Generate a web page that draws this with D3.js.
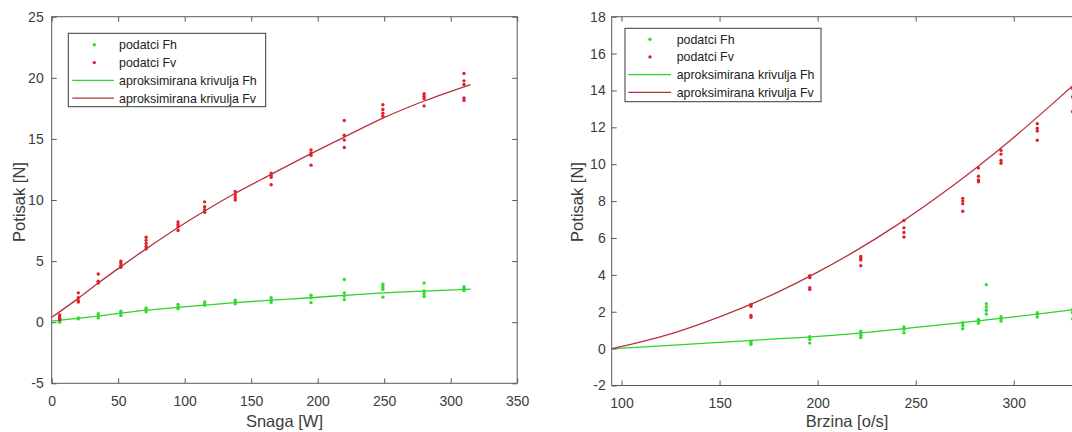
<!DOCTYPE html>
<html>
<head>
<meta charset="utf-8">
<script src="https://cdn.jsdelivr.net/npm/d3@7/dist/d3.min.js"></script>
<style>
  html, body { margin: 0; padding: 0; background: #fff; }
  svg { display: block; }
  text { font-family: "Liberation Sans", Arial, Helvetica, sans-serif; }
</style>
</head>
<body>
<svg id="chart" width="1072" height="432"></svg>
<script>
// ---------- LEFT CHART DATA (Snaga [W] -> Potisak [N]) ----------
const leftX = [6, 20, 35, 52, 71, 95, 115, 138, 165, 195, 220, 249, 280, 310];
const leftFh = [
  [0.35, 0.2, 0.05, 0.0],
  [0.35, 0.27],
  [0.7, 0.5, 0.35],
  [0.9, 0.75, 0.55],
  [1.17, 1.05, 0.85],
  [1.45, 1.25, 1.1],
  [1.65, 1.5, 1.38],
  [1.8, 1.65, 1.5],
  [2.0, 1.8, 1.62],
  [2.2, 2.0, 1.6],
  [3.5, 2.4, 2.15, 1.85],
  [3.1, 2.9, 2.7, 2.05],
  [3.2, 2.55, 2.35, 2.1],
  [2.9, 2.75, 2.6]
];
const leftFv = [
  [0.6, 0.45, 0.3, 0.2],
  [2.4, 2.0, 1.75, 1.65],
  [3.95, 3.35, 3.2],
  [5.0, 4.85, 4.65, 4.5],
  [6.95, 6.7, 6.45, 6.2, 6.0],
  [8.2, 8.0, 7.8, 7.5],
  [9.85, 9.45, 9.2, 9.0],
  [10.7, 10.45, 10.2, 10.0],
  [12.2, 12.0, 11.85, 11.25],
  [14.1, 13.85, 13.65, 12.85],
  [16.5, 15.3, 14.9, 14.3],
  [17.8, 17.4, 17.1, 16.85],
  [18.7, 18.5, 18.3, 17.7],
  [20.35, 19.75, 19.45, 18.35, 18.15]
];
const leftFitFvX = [0, 20, 35, 52, 71, 95, 115, 138, 165, 195, 220, 249, 280, 315];
const leftFitFv  = [0.4, 1.95, 3.2, 4.55, 6.0, 7.75, 9.1, 10.55, 12.1, 13.8, 15.15, 16.7, 18.1, 19.45];
const leftFitFhX = [0, 35, 71, 95, 138, 165, 195, 220, 249, 280, 315];
const leftFitFh  = [0.1, 0.5, 0.98, 1.22, 1.6, 1.8, 2.0, 2.2, 2.4, 2.55, 2.7];
const leftXTicks = [0, 50, 100, 150, 200, 250, 300, 350];
const leftYTicks = [-5, 0, 5, 10, 15, 20, 25];

// ---------- RIGHT CHART DATA (Brzina [o/s] -> Potisak [N]) ----------
const rightFvX = [166, 196, 222, 244, 274, 282, 293.5, 312, 330];
const rightFv = [
  [2.4, 2.3, 1.8, 1.7],
  [3.95, 3.85, 3.3, 3.2],
  [5.0, 4.9, 4.8, 4.5],
  [6.95, 6.55, 6.3, 6.05],
  [8.15, 8.0, 7.85, 7.45],
  [9.8, 9.35, 9.15, 9.05],
  [10.75, 10.55, 10.2, 10.05],
  [12.2, 11.95, 11.8, 11.3],
  [14.1, 13.65, 12.85]
];
const rightFhX = [166, 196, 222, 244, 274, 282, 286, 293.5, 312, 330];
const rightFh = [
  [0.4, 0.3, 0.22],
  [0.65, 0.5, 0.3],
  [0.95, 0.85, 0.72, 0.6],
  [1.17, 1.05, 0.86],
  [1.4, 1.26, 1.08],
  [1.58, 1.48, 1.37],
  [3.47, 2.44, 2.26, 2.08, 1.88],
  [1.73, 1.62, 1.5],
  [1.95, 1.86, 1.71],
  [2.1, 1.95, 1.61]
];
const rightFitFvX = [95, 110, 125, 140, 160, 180, 200, 220, 240, 260, 280, 300, 320, 330];
const rightFitFv  = [0, 0.37, 0.8, 1.33, 2.14, 3.08, 4.15, 5.34, 6.67, 8.14, 9.73, 11.45, 13.3, 14.25];
const rightFitFhX = [95, 125, 150, 175, 200, 225, 250, 275, 300, 330];
const rightFitFh  = [0, 0.18, 0.34, 0.5, 0.66, 0.88, 1.15, 1.42, 1.72, 2.1];
const rightXTicks = [100, 150, 200, 250, 300];
const rightYTicks = [-2, 0, 2, 4, 6, 8, 10, 12, 14, 16, 18];

const legendLabels = ["podatci Fh", "podatci Fv", "aproksimirana krivulja Fh", "aproksimirana krivulja Fv"];

// ---------- STYLE ----------
const C = {
  axis: "#5a5a5a", tickText: "#3c3c3c",
  dotG: "#2fdc2f", dotR: "#e0202a",
  lineG: "#2ad42a", lineR: "#b8323c"
};

const svg = d3.select("#chart");
svg.append("rect").attr("width", 1072).attr("height", 432).attr("fill", "#fff");

function flat(xs, cols) {
  const out = [];
  xs.forEach((x, i) => cols[i].forEach(v => out.push([x, v])));
  return out;
}
const fmt = d => String(d); // plain hyphen minus like the original

function drawChart(cfg) {
  const x = d3.scaleLinear().domain(cfg.xDomain).range([cfg.left, cfg.right]);
  const y = d3.scaleLinear().domain(cfg.yDomain).range([cfg.bottom, cfg.top]);
  const g = svg.append("g");
  const fs = 14;

  const ax = g.append("g").attr("transform", `translate(0,${cfg.bottom})`)
    .call(d3.axisBottom(x).tickValues(cfg.xTicks).tickFormat(fmt).tickSizeInner(-5).tickSizeOuter(0).tickPadding(13));
  const ay = g.append("g").attr("transform", `translate(${cfg.left},0)`)
    .call(d3.axisLeft(y).tickValues(cfg.yTicks).tickFormat(fmt).tickSizeInner(-5).tickSizeOuter(0).tickPadding(cfg.yPad));
  const at = g.append("g").attr("transform", `translate(0,${cfg.top})`)
    .call(d3.axisTop(x).tickValues(cfg.xTicks).tickSizeInner(-5).tickSizeOuter(0).tickFormat(""));
  const ar = g.append("g").attr("transform", `translate(${cfg.right},0)`)
    .call(d3.axisRight(y).tickValues(cfg.yTicks).tickSizeInner(-5).tickSizeOuter(0).tickFormat(""));
  [ax, ay, at, ar].forEach(a => {
    a.select(".domain").remove();
    a.selectAll(".tick line").attr("stroke", C.axis);
    a.selectAll("text").attr("fill", C.tickText).style("font-size", fs + "px")
      .style("font-family", '"Liberation Sans", Arial, sans-serif');
  });

  g.append("rect").attr("x", cfg.left).attr("y", cfg.top)
    .attr("width", cfg.right - cfg.left).attr("height", cfg.bottom - cfg.top)
    .attr("fill", "none").attr("stroke", C.axis).attr("stroke-width", 1);

  const line = d3.line().x(d => x(d[0])).y(d => y(d[1])).curve(d3.curveMonotoneX);
  g.append("path").datum(cfg.fitFhX.map((v, i) => [v, cfg.fitFh[i]]))
    .attr("d", line).attr("fill", "none").attr("stroke", C.lineG).attr("stroke-width", 1.3);
  g.append("path").datum(cfg.fitFvX.map((v, i) => [v, cfg.fitFv[i]]))
    .attr("d", line).attr("fill", "none").attr("stroke", C.lineR).attr("stroke-width", 1.3);

  g.append("g").selectAll("circle").data(flat(cfg.fhX, cfg.fh)).join("circle")
    .attr("cx", d => x(d[0])).attr("cy", d => y(d[1])).attr("r", 1.7).attr("fill", C.dotG);
  g.append("g").selectAll("circle").data(flat(cfg.fvX, cfg.fv)).join("circle")
    .attr("cx", d => x(d[0])).attr("cy", d => y(d[1])).attr("r", 1.7).attr("fill", C.dotR);

  g.append("text").attr("x", (cfg.left + cfg.right) / 2).attr("y", 426.5)
    .attr("text-anchor", "middle").attr("fill", C.tickText).style("font-size", "16.5px")
    .text(cfg.xTitle);
  g.append("text").attr("transform", `translate(${cfg.yTitleX},202) rotate(-90)`)
    .attr("text-anchor", "middle").attr("fill", C.tickText).style("font-size", "16.5px")
    .text("Potisak [N]");

  const L = cfg.legend;
  const lg = g.append("g");
  lg.append("rect").attr("x", L.x).attr("y", L.y).attr("width", L.w).attr("height", L.h)
    .attr("fill", "#fff").attr("stroke", "#3a3a3a").attr("stroke-width", 1);
  legendLabels.forEach((t, i) => {
    const yy = L.rows[i];
    if (i < 2) {
      lg.append("circle").attr("cx", L.mx).attr("cy", yy).attr("r", 1.7)
        .attr("fill", i === 0 ? C.dotG : C.dotR);
    } else {
      lg.append("line").attr("x1", L.l1).attr("x2", L.l2).attr("y1", yy).attr("y2", yy)
        .attr("stroke", i === 2 ? C.lineG : C.lineR).attr("stroke-width", 1.3);
    }
    lg.append("text").attr("x", L.tx).attr("y", yy).attr("dy", "0.36em")
      .attr("fill", "#222").style("font-size", "12.4px").text(t);
  });
}

drawChart({
  xDomain: [0, 350], yDomain: [-5, 25],
  left: 51.7, right: 517.2, top: 16.7, bottom: 383.3,
  xTicks: leftXTicks, yTicks: leftYTicks, yPad: 8,
  fhX: leftX, fh: leftFh, fvX: leftX, fv: leftFv,
  fitFhX: leftFitFhX, fitFh: leftFitFh, fitFvX: leftFitFvX, fitFv: leftFitFv,
  xTitle: "Snaga [W]", yTitleX: 25,
  legend: { x: 68.3, y: 33.3, w: 197.4, h: 73.4, rows: [44.8, 62.6, 80.4, 98.2],
            mx: 94.3, l1: 72.3, l2: 114, tx: 119 }
});

drawChart({
  xDomain: [95, 335], yDomain: [-2, 18],
  left: 611.7, right: 1082.4, top: 16.7, bottom: 385.5,
  xTicks: rightXTicks, yTicks: rightYTicks, yPad: 6,
  fhX: rightFhX, fh: rightFh, fvX: rightFvX, fv: rightFv,
  fitFhX: rightFitFhX, fitFh: rightFitFh, fitFvX: rightFitFvX, fitFv: rightFitFv,
  xTitle: "Brzina [o/s]", yTitleX: 583,
  legend: { x: 625, y: 28.3, w: 196, h: 73.4, rows: [39.2, 56.9, 74.6, 92.3],
            mx: 650, l1: 628.3, l2: 671, tx: 676.7 }
});
</script>
</body>
</html>
